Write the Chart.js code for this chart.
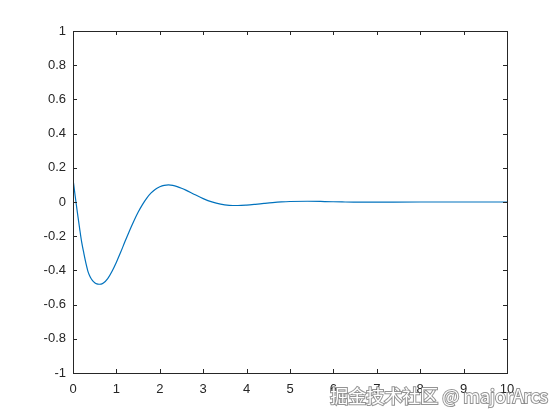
<!DOCTYPE html>
<html>
<head>
<meta charset="utf-8">
<script src="https://cdn.jsdelivr.net/npm/chart.js@4"></script>
<style>
  html, body { margin: 0; padding: 0; background: #fff; }
  #wrap { width: 560px; height: 420px; position: relative; }
</style>
</head>
<body>
<div id="wrap"><canvas id="chart" width="560" height="420"></canvas></div>
<script>
// valores
const tiempo = [0, 0.05, 0.1, 0.15, 0.2, 0.25, 0.3, 0.35, 0.4, 0.45, 0.5, 0.55, 0.6, 0.65, 0.7, 0.8, 0.9,
  1.0, 1.1, 1.2, 1.3, 1.4, 1.5, 1.6, 1.7, 1.8, 1.9, 2.0, 2.1, 2.2, 2.3, 2.4, 2.5, 2.6, 2.8,
  3.0, 3.2, 3.4, 3.6, 3.8, 4.0, 4.2, 4.4, 4.6, 4.8, 5.0, 5.4, 5.8, 6.2, 6.6, 7.0, 8.0, 9.0, 10.0];
const respuesta = [0.135, 0.035, -0.06, -0.15, -0.235, -0.30, -0.36, -0.41, -0.44, -0.46, -0.472, -0.479, -0.481, -0.480, -0.474, -0.448, -0.405,
  -0.352, -0.293, -0.23, -0.169, -0.112, -0.06, -0.015, 0.023, 0.053, 0.075, 0.089, 0.0976, 0.0996, 0.0969, 0.0902, 0.0807, 0.0693, 0.044,
  0.02, 0.0006, -0.0125, -0.0192, -0.0206, -0.0182, -0.0137, -0.0084, -0.0035, 0.0004, 0.0029, 0.0043, 0.0027, 0.0004, -0.001, -0.0008, 0, 0, 0];
const ticksX = [0, 1, 2, 3, 4, 5, 6, 7, 8, 9, 10];
const ticksY = [-1, -0.8, -0.6, -0.4, -0.2, 0, 0.2, 0.4, 0.6, 0.8, 1];
const marca = "掘金技术社区 @ majorArcs";

const puntos = tiempo.map((t, i) => ({ x: t, y: respuesta[i] }));

//---------------------------------------------- caja y marcas hacia dentro
const cajaPlugin = {
  id: "caja",
  afterDatasetsDraw(chart) {
    const { ctx, chartArea: a, scales } = chart;
    const largo = 4;
    ctx.save();
    ctx.strokeStyle = "#262626";
    ctx.lineWidth = 1;
    ctx.beginPath();
    ticksX.forEach((v) => {
      const px = Math.round(scales.x.getPixelForValue(v)) + 0.5;
      ctx.moveTo(px, a.bottom); ctx.lineTo(px, a.bottom - largo);
      ctx.moveTo(px, a.top); ctx.lineTo(px, a.top + largo);
    });
    ticksY.forEach((v) => {
      const py = Math.round(scales.y.getPixelForValue(v)) + 0.5;
      ctx.moveTo(a.left, py); ctx.lineTo(a.left + largo, py);
      ctx.moveTo(a.right, py); ctx.lineTo(a.right - largo, py);
    });
    ctx.stroke();
    ctx.strokeRect(Math.round(a.left) + 0.5, Math.round(a.top) + 0.5,
      Math.round(a.right - a.left), Math.round(a.bottom - a.top));
    ctx.restore();
  },
  afterDraw(chart) {
    const ctx = chart.ctx;
    ctx.save();
    ctx.font = "18px 'Noto Sans CJK SC', 'Liberation Sans', sans-serif";
    ctx.textAlign = "right";
    ctx.textBaseline = "alphabetic";
    ctx.lineWidth = 2;
    ctx.strokeStyle = "rgba(120,120,120,0.8)";
    ctx.strokeText(marca, 548, 403);
    ctx.fillStyle = "#ffffff";
    ctx.fillText(marca, 548, 403);
    ctx.restore();
  }
};

const config = {
  type: "line",
  data: {
    datasets: [{
      data: puntos,
      borderColor: "#0072BD",
      borderWidth: 1.2,
      pointRadius: 0,
      fill: false,
      cubicInterpolationMode: "monotone"
    }]
  },
  options: {
    responsive: false,
    animation: false,
    layout: { padding: { top: 31, right: 53, left: 0, bottom: 0 } },
    plugins: { legend: { display: false }, tooltip: { enabled: false } },
    scales: {
      x: {
        type: "linear",
        min: 0,
        max: 10,
        afterBuildTicks: (s) => { s.ticks = ticksX.map((v) => ({ value: v })); },
        afterFit: (s) => { s.height = 47; },
        grid: { display: false, drawTicks: false },
        border: { display: false },
        ticks: {
          color: "#262626",
          padding: 9,
          maxRotation: 0,
          font: { family: "'Liberation Sans', Arial, sans-serif", size: 13 }
        }
      },
      y: {
        type: "linear",
        min: -1,
        max: 1,
        afterBuildTicks: (s) => { s.ticks = ticksY.map((v) => ({ value: v })); },
        afterFit: (s) => { s.width = 73; },
        grid: { display: false, drawTicks: false },
        border: { display: false },
        ticks: {
          color: "#262626",
          padding: 7,
          font: { family: "'Liberation Sans', Arial, sans-serif", size: 13 },
          callback: (v) => String(Math.round(v * 10) / 10)
        }
      }
    }
  },
  plugins: [cajaPlugin]
};

new Chart(document.getElementById("chart"), config);
</script>
</body>
</html>
